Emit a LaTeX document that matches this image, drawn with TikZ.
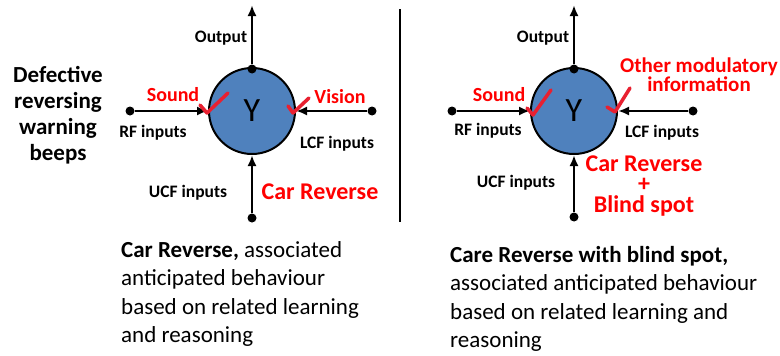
\documentclass[tikz,border=0pt]{standalone}
\usepackage{fontspec}
\setmainfont{Carlito}
\usetikzlibrary{arrows.meta}
\definecolor{nblue}{RGB}{79,129,189}
\definecolor{tred}{RGB}{255,0,0}
\definecolor{cred}{RGB}{232,32,48}
\begin{document}
\begin{tikzpicture}[x=1pt,y=-1pt,
  neuron/.style={circle, draw=black, line width=2pt, fill=nblue, minimum size=86pt, inner sep=0, font=\fontsize{34}{34}\selectfont},
  dot/.style={circle, fill=black, inner sep=0, minimum size=9pt},
  link/.style={line width=2.8pt, -{Latex[length=11pt,width=9pt]}},
  lab/.style={font=\fontsize{17.5}{20}\selectfont\bfseries, anchor=base, inner sep=0},
  redlab/.style={font=\fontsize{20}{22}\selectfont\bfseries, text=tred, anchor=base, inner sep=0},
  bigred/.style={font=\fontsize{24}{20.5}\selectfont\bfseries, text=tred, anchor=base, inner sep=0},
  tick/.style={draw=cred, line width=3.5pt, line cap=round, line join=round},
  body/.style={font=\fontsize{23}{28.5}\selectfont, anchor=base west, inner sep=0},
  side/.style={font=\fontsize{23}{26}\selectfont\bfseries, anchor=base, inner sep=0}
]
\useasboundingbox (0,0) rectangle (780,356);

% ---------- left diagram ----------
\node[neuron] (YL) at (252,111) {Y};
\node[dot] (topL) at (252,69) {};
\node[dot] (rfL) at (130,111) {};
\node[dot] (lcfL) at (372,111) {};
\node[dot] (ucfL) at (252,218) {};
\coordinate (outL) at (252,5);
\draw[link] (topL) -- (outL);
\draw[link] (rfL) -- (YL.west);
\draw[link] (lcfL) -- (YL.east);
\draw[link] (ucfL) -- (YL.south);
\draw[tick] (200,105) -- (207,113) -- (228,93);
\draw[tick] (288,106) -- (293,113) -- (309,98);

\node[lab] (outlabL) at (221,42) {Output};
\node[lab] (rflabL) at (153,137) {RF inputs};
\node[lab] (lcflabL) at (337,148) {LCF inputs};
\node[lab] (ucflabL) at (188,197) {UCF inputs};
\node[redlab] (soundL) at (173,101) {Sound};
\node[redlab] (visionL) at (340,103) {Vision};
\node[bigred] (carL) at (320,199) {Car Reverse};

\node[side] (defect) at (58,82) {\parbox[t]{120pt}{\centering Defective\\reversing\\warning\\beeps}};

% ---------- separator ----------
\coordinate (sepT) at (400,9);
\coordinate (sepB) at (400,222);
\draw[line width=2pt] (sepT) -- (sepB);

% ---------- right diagram ----------
\node[neuron] (YR) at (574,111) {Y};
\node[dot] (topR) at (574,69) {};
\node[dot] (rfR) at (452,111) {};
\node[dot] (lcfR) at (693,111) {};
\node[dot] (ucfR) at (574,217) {};
\coordinate (outR) at (574,5);
\draw[link] (topR) -- (outR);
\draw[link] (rfR) -- (YR.west);
\draw[link] (lcfR) -- (YR.east);
\draw[link] (ucfR) -- (YR.south);
\draw[tick] (527,108) -- (533,115) -- (551,90);
\draw[tick] (607,107) -- (615,112) -- (630,88);

\node[lab] (outlabR) at (543,42) {Output};
\node[lab] (rflabR) at (488,135) {RF inputs};
\node[lab] (lcflabR) at (662,137) {LCF inputs};
\node[lab] (ucflabR) at (516,187) {UCF inputs};
\node[redlab] (soundR) at (499,101) {Sound};
\node[redlab, font=\fontsize{21}{19.5}\selectfont\bfseries] (otherR) at (699,72) {\parbox[t]{200pt}{\centering Other modulatory\\information}};
\node[bigred] (carR) at (644,171) {\parbox[t]{200pt}{\centering Car Reverse\\+\\Blind spot}};

% ---------- captions ----------
\node[body] (capL) at (121,257) {\parbox[t]{270pt}{\raggedright\textbf{Car Reverse,} associated\\anticipated behaviour\\based on related learning\\and reasoning}};
\node[body] (capR) at (450,262) {\parbox[t]{330pt}{\raggedright\textbf{Care Reverse with blind spot,}\\associated anticipated behaviour\\based on related learning and\\reasoning}};
\end{tikzpicture}
\end{document}
